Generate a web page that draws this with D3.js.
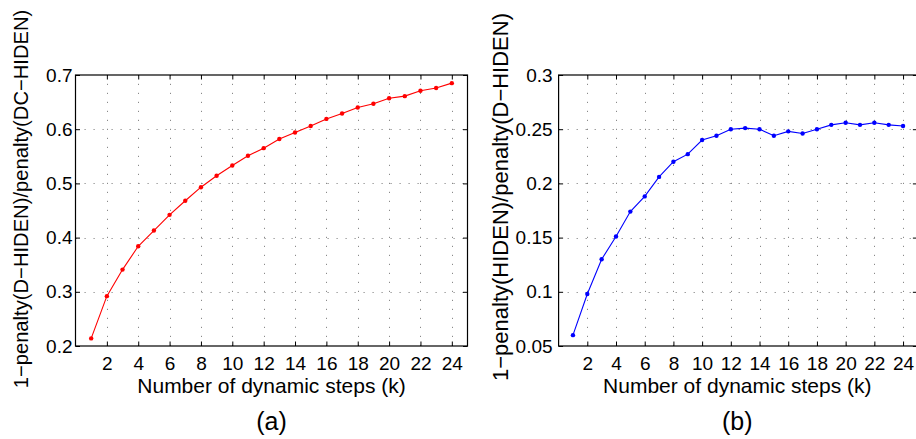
<!DOCTYPE html>
<html>
<head>
<meta charset="utf-8">
<script src="https://cdn.jsdelivr.net/npm/d3@7"></script>
<style>
  html, body { margin: 0; padding: 0; background: #fff; }
  svg { display: block; }
  text { font-family: "Liberation Sans", Arial, Helvetica, sans-serif; fill: #000; }
</style>
</head>
<body>
<svg id="fig" width="916" height="439"></svg>
<script>
// Number of dynamic steps k
const steps = [1, 2, 3, 4, 5, 6, 7, 8, 9, 10, 11, 12, 13, 14, 15, 16, 17, 18, 19, 20, 21, 22, 23, 24];

// (a) 1 - penalty(D-HIDEN) / penalty(DC-HIDEN)
const ratioDvsDC = [0.214, 0.292, 0.341, 0.384, 0.413, 0.442, 0.468, 0.493, 0.514, 0.533,
                    0.551, 0.565, 0.582, 0.594, 0.606, 0.619, 0.629, 0.640, 0.647, 0.657,
                    0.661, 0.671, 0.676, 0.685];

// (b) 1 - penalty(HIDEN) / penalty(D-HIDEN)
const ratioHvsD = [0.060, 0.098, 0.130, 0.151, 0.174, 0.188, 0.206, 0.220, 0.227, 0.240,
                   0.244, 0.250, 0.251, 0.250, 0.244, 0.248, 0.246, 0.250, 0.254, 0.256,
                   0.254, 0.256, 0.254, 0.253];

const xTicks = [2, 4, 6, 8, 10, 12, 14, 16, 18, 20, 22, 24];
const yTicksA = [0.2, 0.3, 0.4, 0.5, 0.6, 0.7];
const yTicksB = [0.05, 0.1, 0.15, 0.2, 0.25, 0.3];
const xLabel = "Number of dynamic steps (k)";

const svg = d3.select("#fig");

function panel(opt) {
  const x = d3.scaleLinear().domain([0, 25]).range([opt.left, opt.right]);
  const y = d3.scaleLinear().domain(opt.yDomain).range([opt.bottom, opt.top]);
  const g = svg.append("g");
  const tick = 4.5;

  // dotted grid
  const grid = g.append("g").attr("stroke", "#8a8a8a").attr("stroke-width", 1)
    .attr("stroke-dasharray", "1.2 7.8");
  grid.selectAll("line.gx").data(xTicks).join("line")
    .attr("x1", d => Math.round(x(d)) + 0.5).attr("x2", d => Math.round(x(d)) + 0.5)
    .attr("y1", opt.bottom).attr("y2", opt.top);
  grid.selectAll("line.gy").data(opt.yTicks.slice(1, -1)).join("line")
    .attr("x1", opt.left).attr("x2", opt.right)
    .attr("y1", d => Math.round(y(d)) + 0.5).attr("y2", d => Math.round(y(d)) + 0.5);

  // axes with inward ticks on all four sides
  const bottomAxis = d3.axisBottom(x).tickValues(xTicks).tickSize(-tick).tickSizeOuter(0)
    .tickPadding(11).tickFormat(d3.format("d"));
  const topAxis = d3.axisTop(x).tickValues(xTicks).tickSize(-tick).tickSizeOuter(0).tickFormat("");
  const leftAxis = d3.axisLeft(y).tickValues(opt.yTicks).tickSize(-tick).tickSizeOuter(0)
    .tickPadding(opt.yPad).tickFormat(opt.yFormat);
  const rightAxis = d3.axisRight(y).tickValues(opt.yTicks).tickSize(-tick).tickSizeOuter(0).tickFormat("");

  const style = sel => {
    sel.select(".domain").remove();
    sel.selectAll("line").attr("stroke", "#000").attr("stroke-width", 1);
    sel.selectAll("text").attr("font-size", 19).attr("fill", "#000")
      .attr("font-family", "'Liberation Sans', Arial, sans-serif");
  };
  g.append("g").attr("transform", `translate(0,${opt.bottom})`).call(bottomAxis).call(style);
  g.append("g").attr("transform", `translate(0,${opt.top})`).call(topAxis).call(style);
  g.append("g").attr("transform", `translate(${opt.left},0)`).call(leftAxis).call(style);
  g.append("g").attr("transform", `translate(${opt.right},0)`).call(rightAxis).call(style);

  // frame
  g.append("rect").attr("x", opt.left).attr("y", opt.top)
    .attr("width", opt.right - opt.left).attr("height", opt.bottom - opt.top)
    .attr("fill", "none").attr("stroke", "#000").attr("stroke-width", 1.2);

  // series
  const pts = steps.map((k, i) => [k, opt.values[i]]);
  g.append("path").datum(pts)
    .attr("fill", "none").attr("stroke", opt.color).attr("stroke-width", 1.1)
    .attr("d", d3.line().x(d => x(d[0])).y(d => y(d[1])));
  g.selectAll("circle.pt").data(pts).join("circle")
    .attr("cx", d => x(d[0])).attr("cy", d => y(d[1])).attr("r", 2.2)
    .attr("fill", opt.color);

  // labels
  const cx = (opt.left + Math.min(opt.right, 916)) / 2;
  g.append("text").attr("x", cx).attr("y", 393).attr("text-anchor", "middle")
    .attr("font-size", 21).text(xLabel);
  g.append("text").attr("x", cx).attr("y", 430).attr("text-anchor", "middle")
    .attr("font-size", 25).text(opt.tag);
  g.append("text")
    .attr("transform", `translate(${opt.titleX},${opt.titleY}) rotate(-90)`)
    .attr("text-anchor", "middle").attr("font-size", opt.titleSize).text(opt.yTitle);
}

panel({
  left: 75.5, right: 467.5, top: 75, bottom: 346,
  yDomain: [0.2, 0.7], yTicks: yTicksA, yFormat: d3.format(".1f"), yPad: 3,
  values: ratioDvsDC, color: "#ff0000", tag: "(a)",
  yTitle: "1\u2212penalty(D\u2212HIDEN)/penalty(DC\u2212HIDEN)",
  titleX: 28, titleY: 199, titleSize: 20.2
});

panel({
  left: 558.6, right: 917.4, top: 75, bottom: 346,
  yDomain: [0.05, 0.3], yTicks: yTicksB, yFormat: d => String(+d.toFixed(2)), yPad: 6,
  values: ratioHvsD, color: "#0000ff", tag: "(b)",
  yTitle: "1\u2212penalty(HIDEN)/penalty(D\u2212HIDEN)",
  titleX: 508, titleY: 197, titleSize: 22
});
</script>
</body>
</html>
